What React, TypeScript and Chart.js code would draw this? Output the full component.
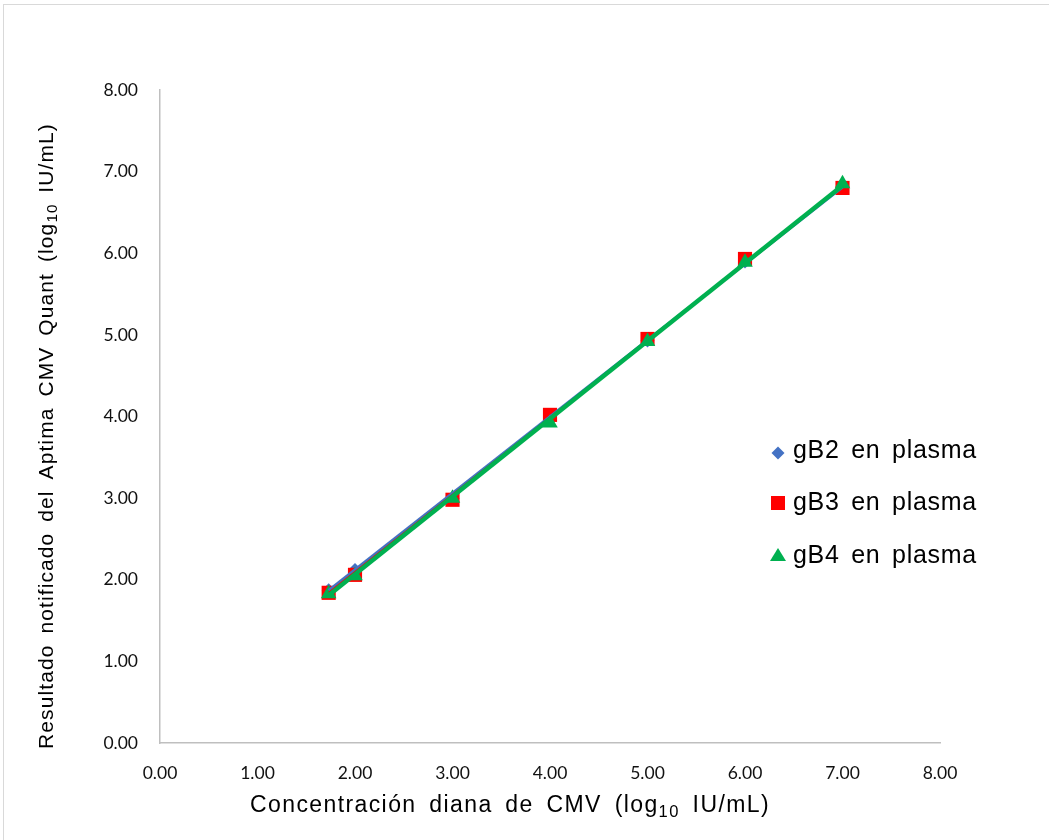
import React, { useEffect, useRef } from "react";
import { Chart, registerables } from "chart.js";

Chart.register(...registerables);

const targetX = [1.73, 2.0, 3.0, 4.0, 5.0, 6.0, 7.0];
const gB2 = [1.87, 2.12, 3.0, 3.97, 4.93, 5.9, 6.82];
const gB3 = [1.84, 2.06, 2.98, 4.02, 4.95, 5.93, 6.8];
const gB4 = [1.83, 2.05, 3.0, 3.92, 4.92, 5.89, 6.85];

const trendX = [1.73, 7.0];
const trendB2 = [1.87, 6.81];
const trendB3 = [1.84, 6.82];
const trendB4 = [1.81, 6.83];

const axisTicks = [0, 1, 2, 3, 4, 5, 6, 7, 8];

const seriesNames = ["gB2 en plasma", "gB3 en plasma", "gB4 en plasma"];
const seriesColors = ["#4472C4", "#FF0000", "#00B050"];

const xTitle = [
  { t: "Concentración diana de CMV (log" },
  { t: "10", sub: true },
  { t: " IU/mL)" },
];
const yTitle = [
  { t: "Resultado notificado del Aptima CMV Quant (log" },
  { t: "10", sub: true },
  { t: " IU/mL)" },
];

function pts(xs: number[], ys: number[]) {
  return xs.map((x, i) => ({ x, y: ys[i] }));
}

function setSpacing(ctx: any, ls: number, ws: number) {
  ctx.letterSpacing = ls + "px";
  ctx.wordSpacing = ws + "px";
}

function drawRich(ctx: CanvasRenderingContext2D, parts: any[], size: number, ls: number, ws: number) {
  const font = (s: number) => `${s}px "Liberation Sans", Arial, sans-serif`;
  setSpacing(ctx, ls, ws);
  let total = 0;
  const widths = parts.map((p) => {
    ctx.font = font(p.sub ? size * 0.72 : size);
    const w = ctx.measureText(p.t).width;
    total += w;
    return w;
  });
  let x = -total / 2;
  parts.forEach((p, i) => {
    ctx.font = font(p.sub ? size * 0.72 : size);
    ctx.fillText(p.t, x, p.sub ? size * 0.28 : 0);
    x += widths[i];
  });
  setSpacing(ctx, 0, 0);
}

function drawMarker(ctx: CanvasRenderingContext2D, kind: number, x: number, y: number) {
  ctx.beginPath();
  if (kind === 0) {
    const r = 6.5;
    ctx.moveTo(x, y - r);
    ctx.lineTo(x + r, y);
    ctx.lineTo(x, y + r);
    ctx.lineTo(x - r, y);
  } else if (kind === 1) {
    ctx.rect(x - 7, y - 7, 14, 14);
  } else {
    ctx.moveTo(x, y - 7);
    ctx.lineTo(x + 8, y + 6);
    ctx.lineTo(x - 8, y + 6);
  }
  ctx.closePath();
  ctx.fill();
}

const decorPlugin = {
  id: "decor",
  beforeDraw(chart: any) {
    const ctx = chart.ctx;
    ctx.save();
    ctx.fillStyle = "#ffffff";
    ctx.fillRect(0, 0, chart.width, chart.height);
    ctx.strokeStyle = "#d9d9d9";
    ctx.lineWidth = 1;
    ctx.strokeRect(3.5, 4.5, 1200, 1000);
    ctx.restore();
  },
  afterDraw(chart: any) {
    const ctx = chart.ctx;
    ctx.save();
    ctx.fillStyle = "#000000";
    ctx.textBaseline = "middle";
    ctx.textAlign = "left";
    ctx.save();
    ctx.translate(510, 806);
    drawRich(ctx, xTitle, 23, 1.4, 5);
    ctx.restore();
    ctx.save();
    ctx.translate(47, 436);
    ctx.rotate(-Math.PI / 2);
    drawRich(ctx, yTitle, 21, 1.1, 4);
    ctx.restore();
    const ys = [453, 503, 555];
    const ty = [451, 503, 556];
    seriesNames.forEach((name, i) => {
      ctx.fillStyle = seriesColors[i];
      drawMarker(ctx, i, 778, ys[i]);
      ctx.font = '25px "Liberation Sans", Arial, sans-serif';
      ctx.fillStyle = "#000000";
      setSpacing(ctx, 0.7, 4);
      ctx.fillText(name, 793, ty[i]);
      setSpacing(ctx, 0, 0);
    });
    ctx.restore();
  },
};

export default function App() {
  const ref = useRef<HTMLCanvasElement>(null);
  useEffect(() => {
    const scatterCommon = { showLine: false, pointBorderWidth: 0 };
    const chart = new Chart(ref.current!, {
      type: "scatter",
      data: {
        datasets: [
          { label: "trend gB4", data: pts(trendX, trendB4), showLine: true, borderColor: seriesColors[2], borderWidth: 4.5, pointRadius: 0, order: 1 },
          { label: "trend gB3", data: pts(trendX, trendB3), showLine: true, borderColor: seriesColors[1], borderWidth: 2, pointRadius: 0, order: 2 },
          { label: "trend gB2", data: pts(trendX, trendB2), showLine: true, borderColor: seriesColors[0], borderWidth: 3, pointRadius: 0, order: 3 },
          { label: seriesNames[2], data: pts(targetX, gB4), ...scatterCommon, pointStyle: "triangle", pointRadius: 9, backgroundColor: seriesColors[2], borderColor: seriesColors[2], order: 4 },
          { label: seriesNames[1], data: pts(targetX, gB3), ...scatterCommon, pointStyle: "rect", pointRadius: 10, backgroundColor: seriesColors[1], borderColor: seriesColors[1], order: 5 },
          { label: seriesNames[0], data: pts(targetX, gB2), ...scatterCommon, pointStyle: "rectRot", pointRadius: 7, backgroundColor: seriesColors[0], borderColor: seriesColors[0], order: 6 },
        ] as any,
      },
      options: {
        responsive: false,
        animation: false,
        layout: { padding: { left: 0, top: 90, right: 109, bottom: 0 } },
        plugins: { legend: { display: false }, tooltip: { enabled: false } },
        scales: {
          x: {
            type: "linear",
            min: 0,
            max: 8,
            afterBuildTicks: (s: any) => { s.ticks = axisTicks.map((v) => ({ value: v })); },
            afterFit: (s: any) => { s.height = 97; },
            grid: { display: false, drawTicks: false },
            border: { display: true, color: "#bfbfbf", width: 1.5 },
            ticks: { padding: 20, color: "#111", font: { family: "Lato, 'Open Sans', sans-serif", size: 17.5 }, callback: (v: any) => Number(v).toFixed(2), maxRotation: 0 },
          },
          y: {
            type: "linear",
            min: 0,
            max: 8,
            afterBuildTicks: (s: any) => { s.ticks = axisTicks.map((v) => ({ value: v })); },
            afterFit: (s: any) => { s.width = 160; },
            grid: { display: false, drawTicks: false },
            border: { display: true, color: "#bfbfbf", width: 1.5 },
            ticks: { padding: 22, color: "#111", font: { family: "Lato, 'Open Sans', sans-serif", size: 17.5 }, callback: (v: any) => Number(v).toFixed(2) },
          },
        },
      },
      plugins: [decorPlugin],
    });
    return () => chart.destroy();
  }, []);
  return (
    <div style={{ position: "fixed", left: 0, top: 0, width: 1049, height: 840 }}>
      <canvas ref={ref} width={1049} height={840} style={{ width: 1049, height: 840 }} />
    </div>
  );
}
